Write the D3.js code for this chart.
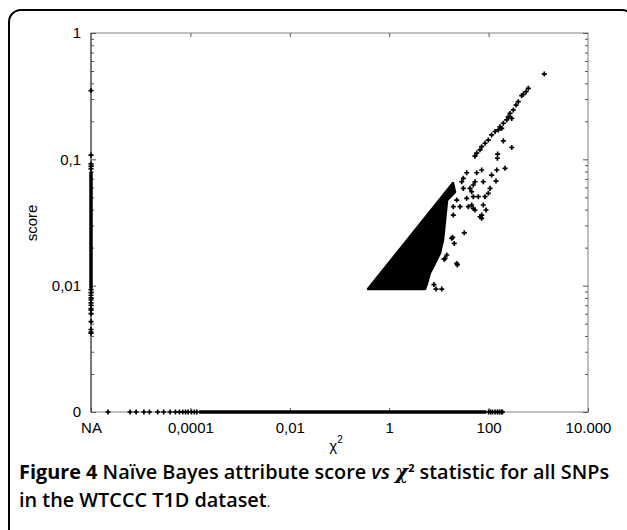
<!DOCTYPE html>
<html>
<head>
<meta charset="utf-8">
<script src="https://cdn.jsdelivr.net/npm/d3@7"></script>
<style>
  html, body { margin: 0; padding: 0; background: #fff; }
  svg { display: block; }
</style>
</head>
<body>
<svg id="chart" width="627" height="530"></svg>
<script>
// ---------------- DATA ----------------
// x axis: chi-square statistic (log), "NA" placed at the left end
const xTickValues = [1e-6, 1e-4, 1e-2, 1, 1e2, 1e4];
const xTickLabels = ["NA", "0,0001", "0,01", "1", "100", "10.000"];
// y axis: attribute score (log), "0" placed at the bottom end
const yTickValues = [0.001, 0.01, 0.1, 1];
const yTickLabels = ["0", "0,01", "0,1", "1"];
const NA_CHI = 1e-6;      // where "NA" sits on the chi-square axis
const ZERO_SCORE = 0.001; // where score "0" sits on the score axis

// SNPs with chi-square = NA (scores)
const naScores = [0.35, 0.108, 0.092, 0.088, 0.084, 0.0093, 0.0088, 0.0084, 0.008,
  0.0077, 0.0073, 0.007, 0.0066, 0.0064, 0.006, 0.0052, 0.0045, 0.0043, 0.0042];
const naDenseRange = [0.0095, 0.08];

// SNPs with score = 0 (chi-square values)
const zeroChi = [2.2e-6, 6.1e-6, 8.1e-6, 1.16e-5, 1.5e-5, 2.2e-5, 2.9e-5, 3.9e-5,
  5e-5, 6e-5, 7e-5, 8e-5, 9e-5, 1.05e-4, 1.2e-4, 1.35e-4,
  100, 110, 120, 135, 150, 165, 180, 190];
const zeroDenseRange = [1.5e-4, 90];

// outline of the saturated (solid) cloud of points
const denseChi   = [0.374, 19.2, 21.1, 14.6, 13.3, 12.1, 10.5, 7.6, 6.6, 5.8, 5.25];
const denseScore = [0.0094, 0.0649, 0.0551, 0.0476, 0.0331, 0.0230, 0.0181, 0.0140, 0.0126, 0.0105, 0.0094];

// individual points outside the saturated cloud
const pointChi = [1321, 630, 566, 499, 463, 396, 356, 314, 270, 249, 292, 231, 198, 169, 157, 184,
  135, 115, 98.6, 84.6, 72.6, 67.1, 57.7, 53.2, 198, 292, 152, 150, 214, 146, 115, 72.6,
  57.7, 36.2, 31.0, 53.2, 78.2, 141, 107, 98.6, 84.6, 49.2, 42.3, 45.7, 49.2, 36.2, 62.1,
  45.7, 49.2, 39.1, 78.2, 88.7, 72.6, 72.6, 26.6, 22.8, 19.5, 19.5, 32.4, 19.0, 20.4, 12.7,
  22.8, 23.5, 7.96, 8.74, 11.4, 18.1, 14.4, 13.3, 28.8, 31.0, 53.2, 67.1];
const pointScore = [0.473, 0.365, 0.343, 0.327, 0.319, 0.286, 0.269, 0.246, 0.231, 0.217, 0.211, 0.205, 0.193, 0.181, 0.171, 0.176,
  0.166, 0.156, 0.142, 0.134, 0.126, 0.119, 0.112, 0.106, 0.140, 0.124, 0.110, 0.102, 0.0849, 0.0823, 0.0751, 0.0823,
  0.0783, 0.0783, 0.0707, 0.0665, 0.0665, 0.0673, 0.0589, 0.0538, 0.0506, 0.0626, 0.0589, 0.0554, 0.0506, 0.0491, 0.0506,
  0.0435, 0.0409, 0.0422, 0.0435, 0.0397, 0.0362, 0.0341, 0.0422, 0.0476, 0.0422, 0.0362, 0.0262, 0.0241, 0.0216, 0.0162,
  0.0150, 0.0146, 0.0102, 0.0094, 0.0094, 0.0237, 0.0175, 0.0164, 0.0665, 0.0589, 0.0397, 0.0351];

// ---------------- LAYOUT ----------------
const svg = d3.select("#chart");
const pLeft = 91, pRight = 588, pTop = 33, pBottom = 412;
const x = d3.scaleLog().domain([1e-6, 1e4]).range([pLeft, pRight]);
const y = d3.scaleLog().domain([0.001, 1]).range([pBottom, pTop]);

// frame
svg.append("rect").attr("x", 9).attr("y", 10).attr("width", 625).attr("height", 560)
  .attr("rx", 12).attr("fill", "none").attr("stroke", "#000").attr("stroke-width", 2);

const axisColor = "#808080";
const axisFont = "'Liberation Sans', Arial, sans-serif";
// plot box
svg.append("rect").attr("x", pLeft).attr("y", pTop).attr("width", pRight - pLeft).attr("height", pBottom - pTop)
  .attr("fill", "none").attr("stroke", axisColor).attr("stroke-width", 1);

// minor y ticks
const yMinor = [];
[0.001, 0.01, 0.1].forEach(b => { for (let k = 2; k <= 9; k++) yMinor.push(b * k); });

function styleAxis(g) {
  g.select(".domain").remove();
  g.selectAll(".tick line").attr("stroke", "#555");
  g.selectAll("text").attr("fill", "#000").style("font-family", axisFont).style("font-size", "15px");
}

// bottom axis
svg.append("g").attr("transform", `translate(0,${pBottom})`)
  .call(d3.axisBottom(x).tickValues(xTickValues).tickFormat((d, i) => xTickLabels[i]).tickSizeInner(-4).tickSizeOuter(0).tickPadding(10))
  .call(styleAxis);
// top axis ticks
svg.append("g").attr("transform", `translate(0,${pTop})`)
  .call(d3.axisTop(x).tickValues(xTickValues.slice(1, -1)).tickFormat("").tickSizeInner(-4).tickSizeOuter(0))
  .call(styleAxis);
// left axis
svg.append("g").attr("transform", `translate(${pLeft},0)`)
  .call(d3.axisLeft(y).tickValues(yTickValues).tickFormat((d, i) => yTickLabels[i]).tickSizeInner(-5).tickSizeOuter(0).tickPadding(10))
  .call(styleAxis);
svg.append("g").attr("transform", `translate(${pLeft},0)`)
  .call(d3.axisLeft(y).tickValues(yMinor).tickFormat("").tickSizeInner(-3).tickSizeOuter(0))
  .call(styleAxis);
// right axis
svg.append("g").attr("transform", `translate(${pRight},0)`)
  .call(d3.axisRight(y).tickValues(yTickValues).tickFormat("").tickSizeInner(-5).tickSizeOuter(0))
  .call(styleAxis);
svg.append("g").attr("transform", `translate(${pRight},0)`)
  .call(d3.axisRight(y).tickValues(yMinor).tickFormat("").tickSizeInner(-3).tickSizeOuter(0))
  .call(styleAxis);
// left axis line a bit darker
svg.append("line").attr("x1", pLeft).attr("x2", pLeft).attr("y1", pTop).attr("y2", pBottom)
  .attr("stroke", "#333").attr("stroke-width", 1);

// axis titles
svg.append("text").attr("transform", `translate(33,223) rotate(-90)`)
  .attr("text-anchor", "middle").attr("dominant-baseline", "middle")
  .style("font-family", axisFont).style("font-size", "15px").text("score");
const xt = svg.append("text").attr("x", 336).attr("y", 451).attr("text-anchor", "middle")
  .style("font-family", axisFont).style("font-size", "15px");
xt.append("tspan").text("χ");
xt.append("tspan").attr("dy", -8).style("font-size", "10px").text("2");

// ---------------- MARKS ----------------
const marks = svg.append("g");
const sym = d3.symbol().type(d3.symbolCross).size(14);

// saturated cloud
const cloud = denseChi.map((c, i) => [x(c), y(denseScore[i])]);
marks.append("path").attr("d", d3.line()(cloud) + "Z")
  .attr("fill", "#000").attr("stroke", "#000").attr("stroke-width", 2.5).attr("stroke-linejoin", "round");

// dense runs
marks.append("line").attr("x1", x(NA_CHI)).attr("x2", x(NA_CHI))
  .attr("y1", y(naDenseRange[0])).attr("y2", y(naDenseRange[1]))
  .attr("stroke", "#000").attr("stroke-width", 3.5);
marks.append("line").attr("x1", x(zeroDenseRange[0])).attr("x2", x(zeroDenseRange[1]))
  .attr("y1", y(ZERO_SCORE)).attr("y2", y(ZERO_SCORE))
  .attr("stroke", "#000").attr("stroke-width", 3.5);

const pts = [];
naScores.forEach(s => pts.push([NA_CHI, s]));
zeroChi.forEach(c => pts.push([c, ZERO_SCORE]));
pointChi.forEach((c, i) => pts.push([c, pointScore[i]]));
marks.selectAll("path.pt").data(pts).join("path").attr("class", "pt")
  .attr("transform", d => `translate(${x(d[0])},${y(d[1])})`)
  .attr("d", sym).attr("fill", "#000");

// ---------------- CAPTION ----------------
const capFont = "'Open Sans', 'Noto Sans', sans-serif";
const cap1 = svg.append("text").attr("x", 19).attr("y", 479)
  .style("font-family", capFont).style("font-size", "16px").attr("fill", "#000");
cap1.append("tspan").style("font-weight", 700).text("Figure 4 ");
cap1.append("tspan").style("font-weight", 600).text("Naïve Bayes attribute score ");
cap1.append("tspan").style("font-weight", 600).style("font-style", "italic").text("vs ");
cap1.append("tspan").style("font-family", "'DejaVu Serif', serif").style("font-style", "italic").style("font-weight", 700).text("χ");
cap1.append("tspan").style("font-weight", 700).style("font-size", "11px").attr("dy", -7).text("2");
cap1.append("tspan").style("font-weight", 600).attr("dy", 7).text(" statistic for all SNPs");

const cap2 = svg.append("text").attr("x", 19).attr("y", 507)
  .style("font-family", capFont).style("font-size", "16px").attr("fill", "#000");
cap2.append("tspan").style("font-weight", 600).text("in the WTCCC T1D dataset");
cap2.append("tspan").style("font-weight", 400).style("font-size", "13px").text(".");

// fit caption line 1 to its width in the figure
const target = 592;
const w = cap1.node().getComputedTextLength();
if (w > 0) {
  const k = target / w;
  [cap1, cap2].forEach(t => {
    t.style("font-size", (16 * k) + "px");
  });
}
</script>
</body>
</html>
